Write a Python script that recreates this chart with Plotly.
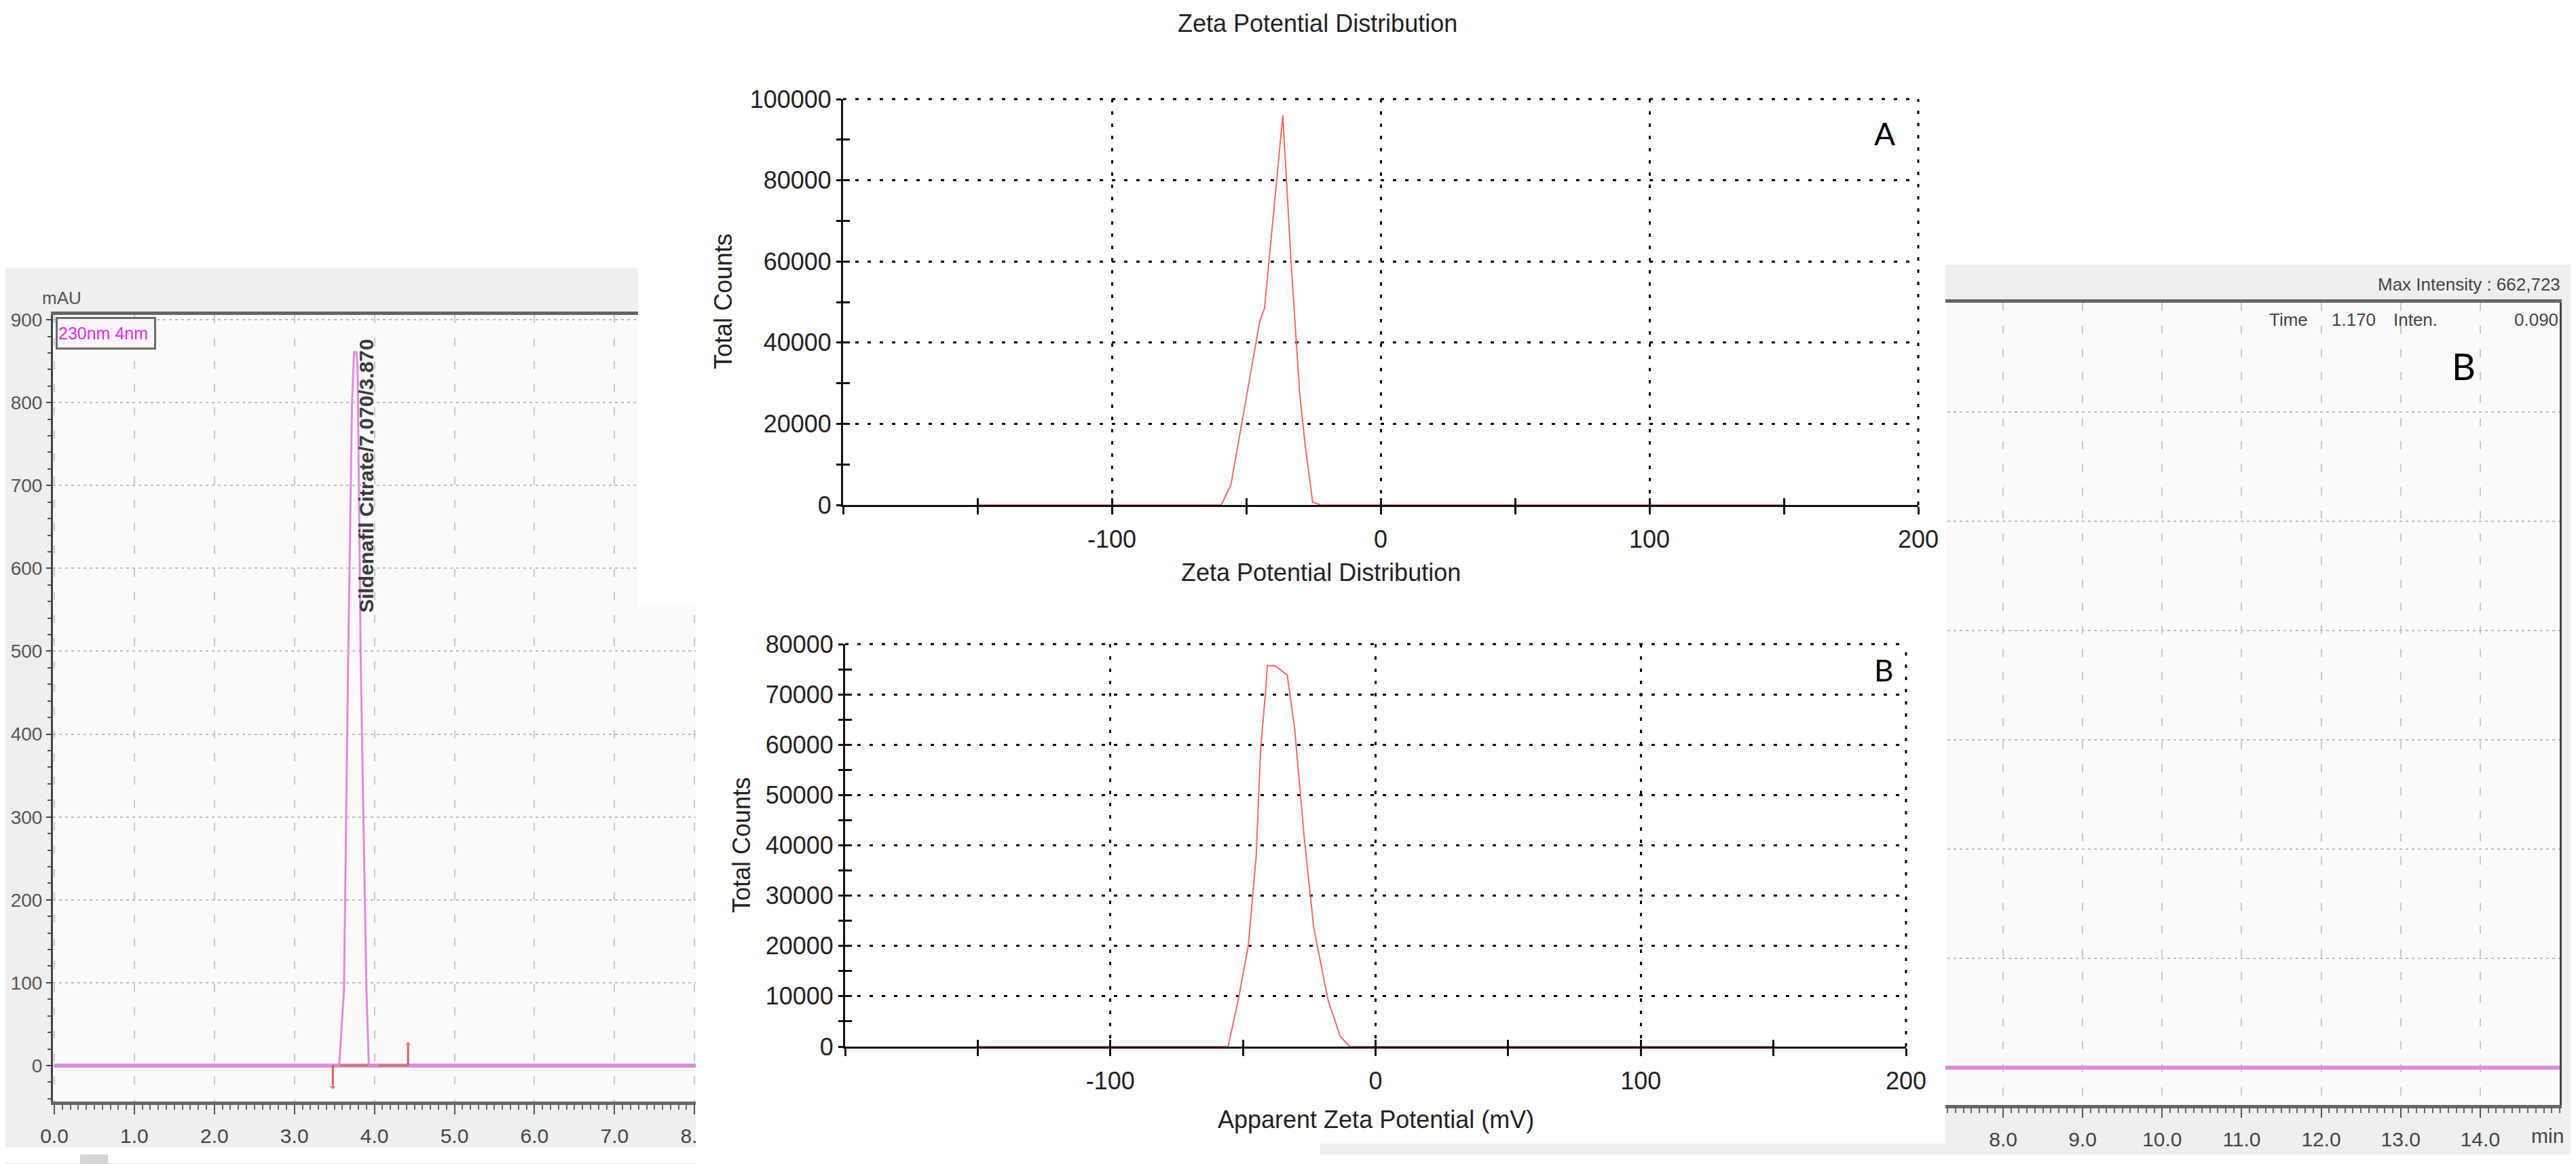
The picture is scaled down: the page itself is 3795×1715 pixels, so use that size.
import plotly.graph_objects as go

W, H = 3795, 1715

# ---------------- data ----------------
# HPLC chromatogram (mAU vs retention time, min)
chrom_base_x = [0.0, 15.0]
chrom_base_y = [0, 0]
peak_x = [3.50, 3.56, 3.62, 3.67, 3.72, 3.745, 3.775, 3.79, 3.83, 3.90, 3.93, 4.05]
peak_y = [0, 0, 92, 479, 800, 861, 861, 842, 479, 92, 0, 0]
integ_x = [3.48, 4.42]                       # integration start / end
peak_label = "Sildenafil Citrate/7.070/3.870"
chrom_xticks = [float(v) for v in range(0, 15)]
chrom_xtext = ["%.1f" % v for v in chrom_xticks]
# the right-hand window only shows labels from 8.0 on (the rest is hidden)
chrom_right_xtext = ["%.1f" % v if v >= 8 else "" for v in chrom_xticks]
chrom_left_yticks = [0, 100, 200, 300, 400, 500, 600, 700, 800, 900]
chrom_right_yticks = [0, 100, 200, 300, 400, 500, 600, 700]

# Zeta potential distribution A
zetaA_x = [-150, -59.3, -55.7, -45.0, -43.2, -36.4, -33.3, -30.1, -28.0, -25.3, -22.4, 150]
zetaA_y = [0, 0, 5000, 45150, 48500, 96000, 59600, 27200, 14400, 700, 0, 0]
# Apparent zeta potential B
zetaB_x = [-150, -55.6, -51.8, -48.0, -45.0, -43.3, -41.5, -40.8, -37.9, -33.3, -30.5,
           -26.9, -23.3, -17.9, -13.3, -9.7, 150]
zetaB_y = [0, 0, 9200, 20000, 37950, 59500, 70300, 75700, 75700, 73860, 63100,
           41550, 23600, 9200, 2000, 0, 0]

zeta_xticks = [-100, 0, 100, 200]
zeta_xtext = ["-100", "0", "100", "200"]
zeta_xminor = [-200, -150, -50, 50, 150]
zeta_xall = [-200, -150, -100, -50, 0, 50, 100, 150, 200]
zetaA_yticks = [0, 20000, 40000, 60000, 80000, 100000]
zetaA_ytext = ["0", "20000", "40000", "60000", "80000", "100000"]
zetaA_yminor = [10000, 30000, 50000, 70000, 90000]
zetaB_yticks = [0, 10000, 20000, 30000, 40000, 50000, 60000, 70000, 80000]
zetaB_ytext = ["0", "10000", "20000", "30000", "40000", "50000", "60000", "70000", "80000"]
zetaB_yminor = [5000, 15000, 25000, 35000, 45000, 55000, 65000, 75000]


def dx(px):
    return px / W


def dy(py):
    return 1 - py / H


NARROW = "Liberation Sans Narrow, Arial Narrow, Liberation Sans, Arial"
ARIAL = "Liberation Sans, Arial"
PINK = "#dc8ddc"
RED = "#ff6464"

fig = go.Figure()

# --- right chromatogram (xy) ---
fig.add_trace(go.Scatter(x=chrom_base_x, y=chrom_base_y, mode="lines",
                         line=dict(color=PINK, width=6), xaxis="x", yaxis="y",
                         hoverinfo="skip", showlegend=False))
# --- left chromatogram (x2y2) ---
fig.add_trace(go.Scatter(x=chrom_base_x, y=chrom_base_y, mode="lines",
                         line=dict(color=PINK, width=6), xaxis="x2", yaxis="y2",
                         hoverinfo="skip", showlegend=False))
fig.add_trace(go.Scatter(x=integ_x, y=[0, 0], mode="lines",
                         line=dict(color="#c87a55", width=3), xaxis="x2", yaxis="y2",
                         hoverinfo="skip", showlegend=False))
fig.add_trace(go.Scatter(x=[integ_x[0], integ_x[0]], y=[0, -26], mode="lines+markers",
                         line=dict(color="#dc5a5a", width=3),
                         marker=dict(symbol=["circle", "triangle-down"], size=[0, 9], color="#dc5a5a"),
                         xaxis="x2", yaxis="y2", hoverinfo="skip", showlegend=False))
fig.add_trace(go.Scatter(x=[integ_x[1], integ_x[1]], y=[0, 26], mode="lines+markers",
                         line=dict(color="#dc5a5a", width=3),
                         marker=dict(symbol=["circle", "triangle-up"], size=[0, 9], color="#dc5a5a"),
                         xaxis="x2", yaxis="y2", hoverinfo="skip", showlegend=False))
fig.add_trace(go.Scatter(x=peak_x, y=peak_y, mode="lines",
                         line=dict(color="#e08be0", width=3), xaxis="x2", yaxis="y2",
                         hoverinfo="skip", showlegend=False))
# --- cover subplot (x3y3) ---
fig.add_trace(go.Scatter(x=[0.5], y=[0.5], mode="markers", marker=dict(opacity=0),
                         xaxis="x3", yaxis="y3", hoverinfo="skip", showlegend=False))
# --- zeta A (x4y4) ---
fig.add_trace(go.Scatter(x=zetaA_x, y=zetaA_y, mode="lines", line=dict(color=RED, width=2),
                         xaxis="x4", yaxis="y4", hoverinfo="skip", showlegend=False,
                         cliponaxis=False))
# --- zeta B (x5y5) ---
fig.add_trace(go.Scatter(x=zetaB_x, y=zetaB_y, mode="lines", line=dict(color=RED, width=2),
                         xaxis="x5", yaxis="y5", hoverinfo="skip", showlegend=False,
                         cliponaxis=False))
# overlay subplots for inward tick halves
fig.add_trace(go.Scatter(x=[0], y=[0], mode="markers", marker=dict(opacity=0),
                         xaxis="x6", yaxis="y6", hoverinfo="skip", showlegend=False))
fig.add_trace(go.Scatter(x=[0], y=[0], mode="markers", marker=dict(opacity=0),
                         xaxis="x7", yaxis="y7", hoverinfo="skip", showlegend=False))

chrom_x_common = dict(
    tickmode="array", tickvals=chrom_xticks,
    ticks="outside", ticklen=14, tickwidth=2, tickcolor="#555",
    minor=dict(dtick=0.1, tick0=0, ticks="outside", ticklen=7, tickwidth=2,
               tickcolor="#666", showgrid=False),
    showline=True, linewidth=5, linecolor="#666", mirror=True,
    showgrid=True, gridcolor="#c9c9c9", gridwidth=2, griddash="12px,22px",
    zeroline=False, tickfont=dict(family=NARROW, size=30, color="#444"),
    ticklabelstandoff=6, layer="above traces", automargin=False,
)
chrom_y_common = dict(
    tickmode="array", ticks="outside", ticklen=7, tickwidth=2, tickcolor="#444",
    minor=dict(dtick=20, tick0=0, ticks="outside", ticklen=5, tickwidth=2,
               tickcolor="#555", showgrid=False),
    showline=True, linewidth=3, linecolor="#444", mirror=True,
    showgrid=True, gridcolor="#bdbdbd", gridwidth=2, griddash="4px,5px",
    zeroline=False, tickfont=dict(family=ARIAL, size=28, color="#555"),
    layer="above traces", automargin=False,
)

zeta_x_common = dict(
    range=[-200, 200], tickmode="array", tickvals=zeta_xticks, ticktext=zeta_xtext,
    ticks="outside", ticklen=11, tickwidth=3, tickcolor="#111",
    minor=dict(tickvals=zeta_xminor, ticks="outside", ticklen=11, tickwidth=3,
               tickcolor="#111", showgrid=False),
    showline=True, linewidth=3, linecolor="#111",
    showgrid=True, gridcolor="#000", gridwidth=3, griddash="5px,13px",
    zeroline=False, tickfont=dict(family=ARIAL, size=36, color="#222"),
    layer="below traces", ticklabelstandoff=6, automargin=False,
)
zeta_y_common = dict(
    tickmode="array", ticks="outside", ticklen=7, tickwidth=3, tickcolor="#111",
    showline=True, linewidth=3, linecolor="#111",
    showgrid=True, gridcolor="#000", gridwidth=3, griddash="5px,13px",
    zeroline=False, tickfont=dict(family=ARIAL, size=36, color="#222"),
    layer="below traces", automargin=False,
)
overlay_common = dict(showgrid=False, zeroline=False, showline=False,
                      showticklabels=False, ticks="inside", ticklen=10, tickwidth=3,
                      tickcolor="#111", tickmode="array", automargin=False)

layout = dict(
    width=W, height=H, margin=dict(l=0, r=0, t=0, b=0, pad=0, autoexpand=False),
    paper_bgcolor="white", plot_bgcolor="rgba(0,0,0,0)", showlegend=False,
    # right chromatogram
    xaxis=dict(domain=[dx(2006), dx(3763)], range=[0, 15], anchor="y",
               ticktext=chrom_right_xtext, **chrom_x_common),
    yaxis=dict(domain=[dy(1620), dy(438)], range=[-34.2, 700], anchor="x",
               tickvals=chrom_right_yticks, **chrom_y_common),
    # left chromatogram
    xaxis2=dict(domain=[dx(70), dx(1200)], range=[-0.017, 9.567], anchor="y2",
                ticktext=chrom_xtext, **chrom_x_common),
    yaxis2=dict(domain=[dy(1615), dy(456)], range=[-43.4, 905.8], anchor="x2",
                tickvals=chrom_left_yticks, **chrom_y_common),
    # cover
    xaxis3=dict(domain=[dx(932), dx(2858)], range=[0, 1], anchor="y3", visible=False,
                showgrid=False, zeroline=False, automargin=False),
    yaxis3=dict(domain=[dy(1677), 1.0], range=[0, 1], anchor="x3", visible=False,
                showgrid=False, zeroline=False, automargin=False),
    # zeta A
    xaxis4=dict(domain=[dx(1234), dx(2818)], anchor="y4", **zeta_x_common),
    yaxis4=dict(domain=[dy(736), dy(138)], range=[0, 100000], anchor="x4",
                tickvals=zetaA_yticks, ticktext=zetaA_ytext,
                minor=dict(tickvals=zetaA_yminor, ticks="outside", ticklen=7, tickwidth=3,
                           tickcolor="#111", showgrid=False),
                **zeta_y_common),
    # zeta B
    xaxis5=dict(domain=[dx(1237), dx(2800)], anchor="y5", **zeta_x_common),
    yaxis5=dict(domain=[dy(1534), dy(941)], range=[0, 80000], anchor="x5",
                tickvals=zetaB_yticks, ticktext=zetaB_ytext,
                minor=dict(tickvals=zetaB_yminor, ticks="outside", ticklen=7, tickwidth=3,
                           tickcolor="#111", showgrid=False),
                **zeta_y_common),
    # inward tick overlays
    xaxis6=dict(overlaying="x4", anchor="y6", range=[-200, 200], tickvals=zeta_xall, **overlay_common),
    yaxis6=dict(overlaying="y4", anchor="x6", range=[0, 100000],
                tickvals=sorted(zetaA_yticks + zetaA_yminor), **overlay_common),
    xaxis7=dict(overlaying="x5", anchor="y7", range=[-200, 200], tickvals=zeta_xall, **overlay_common),
    yaxis7=dict(overlaying="y5", anchor="x7", range=[0, 80000],
                tickvals=sorted(zetaB_yticks + zetaB_yminor), **overlay_common),
)
fig.update_layout(**layout)

# ---------------- panel backgrounds ----------------
GRID_DASH = "5px,13px"
shapes = [
    # left chromatogram window
    dict(type="rect", xref="paper", yref="paper", x0=dx(0), x1=dx(1017), y0=dy(1682), y1=dy(387),
         fillcolor="#efefef", line=dict(width=0), layer="below"),
    dict(type="rect", xref="paper", yref="paper", x0=dx(70), x1=dx(1017), y0=dy(1615), y1=dy(456),
         fillcolor="#fafafa", line=dict(width=0), layer="below"),
    # scroll bar under left chromatogram
    dict(type="line", xref="paper", yref="paper", x0=dx(0), x1=dx(1017), y0=dy(1707), y1=dy(1707),
         line=dict(color="#dcdcdc", width=2), layer="below"),
    dict(type="rect", xref="paper", yref="paper", x0=dx(110), x1=dx(151), y0=dy(1710), y1=dy(1693),
         fillcolor="#d6d6d6", line=dict(width=0), layer="below"),
    # right chromatogram window
    dict(type="rect", xref="paper", yref="paper", x0=dx(1937), x1=dx(3781), y0=dy(1693), y1=dy(382),
         fillcolor="#efefef", line=dict(width=0), layer="below"),
    dict(type="rect", xref="paper", yref="paper", x0=dx(2006), x1=dx(3763), y0=dy(1620), y1=dy(438),
         fillcolor="#fafafa", line=dict(width=0), layer="below"),
    # white zeta panels covering the chromatogram windows (cover subplot)
    dict(type="rect", xref="x3", yref="y3", x0=0, x1=1, y0=1 - 883 / 1677, y1=1,
         fillcolor="white", line=dict(width=0), layer="below"),
    dict(type="rect", xref="x3", yref="y3", x0=(1017 - 932) / (2858 - 932), x1=1,
         y0=0, y1=1 - 883 / 1677 + 0.001, fillcolor="white", line=dict(width=0), layer="below"),
    # dotted frame edges (top / right) of the zeta plots
    dict(type="line", xref="paper", yref="paper", x0=dx(1234), x1=dx(2818), y0=dy(138), y1=dy(138),
         line=dict(color="#000", width=3, dash=GRID_DASH), layer="above"),
    dict(type="line", xref="paper", yref="paper", x0=dx(2818), x1=dx(2818), y0=dy(736), y1=dy(138),
         line=dict(color="#000", width=3, dash=GRID_DASH), layer="above"),
    dict(type="line", xref="paper", yref="paper", x0=dx(1237), x1=dx(2800), y0=dy(941), y1=dy(941),
         line=dict(color="#000", width=3, dash=GRID_DASH), layer="above"),
    dict(type="line", xref="paper", yref="paper", x0=dx(2800), x1=dx(2800), y0=dy(1534), y1=dy(941),
         line=dict(color="#000", width=3, dash=GRID_DASH), layer="above"),
]
fig.update_layout(shapes=shapes)


def ann(text, px, py, size, family=ARIAL, color="#222", angle=0, xanchor="center", **kw):
    return dict(text=text, x=dx(px), y=dy(py), xref="paper", yref="paper", showarrow=False,
                xanchor=xanchor, yanchor="middle", textangle=angle,
                font=dict(family=family, size=size, color=color), **kw)


annotations = [
    ann("Zeta Potential Distribution", 1933, 27, 36),
    ann("Zeta Potential Distribution", 1938, 835, 36),
    ann("Total Counts", 1057, 436, 36, angle=-90),
    ann("Total Counts", 1084, 1237, 36, angle=-90),
    ann("Apparent Zeta Potential (mV)", 2019, 1641, 36),
    ann("A", 2768, 188, 46, family="Lato, Open Sans", color="#000"),
    ann("B", 2767, 979, 44, family="Lato, Open Sans", color="#000"),
    ann("B", 3621, 532, 54, family="Lato, Open Sans", color="#000"),
    ann("mAU", 83, 431, 26, family=NARROW, color="#555"),
    ann("Max Intensity : 662,723", 3766, 411, 26, family=NARROW, color="#444", xanchor="right"),
    ann("Time", 3363, 463, 26, family=NARROW, color="#444"),
    ann("1.170", 3459, 463, 26, family=NARROW, color="#444"),
    ann("Inten.", 3550, 463, 26, family=NARROW, color="#444"),
    ann("0.090", 3728, 463, 26, family=NARROW, color="#444"),
    ann("min", 3745, 1665, 30, family=NARROW, color="#444"),
    dict(text="230nm 4nm", x=dx(74), y=dy(459), xref="paper", yref="paper", showarrow=False,
         xanchor="left", yanchor="top", align="left", width=140, height=40,
         bordercolor="#6a6a6a", borderwidth=3, borderpad=1, bgcolor="#fbf4fb",
         font=dict(family=NARROW, size=25, color="#e030e0")),
    dict(text="<b>" + peak_label + "</b>", x=3.9, y=(1562 - 693) / 1.221, xref="x2", yref="y2",
         showarrow=False, textangle=-90, xanchor="center", yanchor="middle",
         font=dict(family=NARROW, size=30, color="#3a3a3a")),
]
fig.update_layout(annotations=annotations)

fig.write_html("out.html")
